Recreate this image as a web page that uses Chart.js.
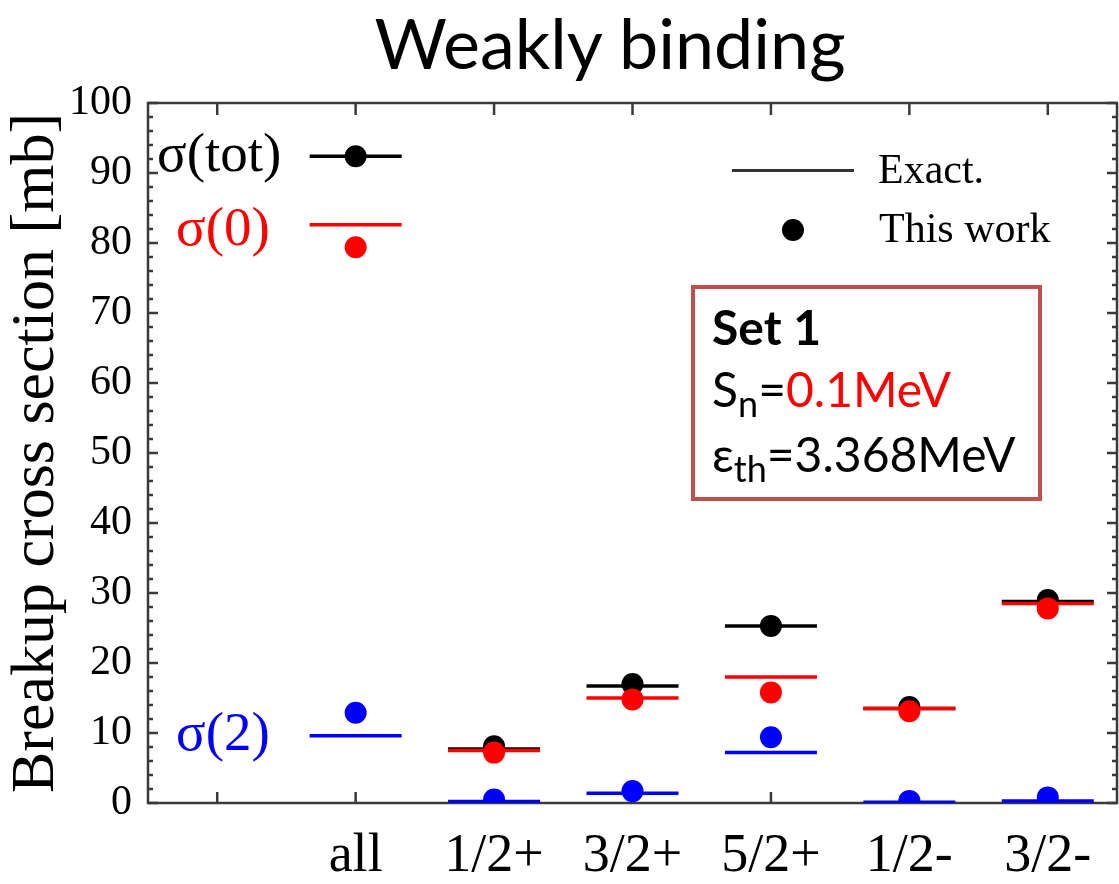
<!DOCTYPE html>
<html>
<head>
<meta charset="utf-8">
<script src="https://cdn.jsdelivr.net/npm/chart.js@4.4.1/dist/chart.umd.min.js"></script>
<style>
  html, body { margin: 0; padding: 0; background: #fff; }
  #wrap { position: relative; width: 1119px; height: 884px; overflow: hidden; }
  #plot { position: absolute; left: 0; top: 0; }
  .txt { position: absolute; white-space: nowrap; line-height: 1; }
  .serif { font-family: "Liberation Serif", "Times New Roman", serif; }
  .sans { font-family: Lato, "Open Sans", sans-serif; }
  #title { left: 0; width: 1220px; top: 7px; text-align: center; font-size: 70px; color: #000; }
  .key-line { position: absolute; left: 732px; top: 169px; width: 122px; border-top: 3px solid #333; }
  .key-dot { position: absolute; left: 782px; top: 219px; width: 22px; height: 22px; border-radius: 50%; background: #000; }
  #box { position: absolute; left: 691px; top: 285px; width: 351px; height: 216px; box-sizing: border-box; border: 4px solid #c0504d; }
  .box-line { font-size: 48px; color: #000; left: 712px; }
  .box-line sub { font-size: 0.75em; vertical-align: -0.28em; line-height: 0; }
  .sig { font-size: 55px; }
</style>
</head>
<body>
<div id="wrap">
  <canvas id="plot" width="1119" height="884"></canvas>
  <div id="title" class="txt sans">Weakly binding</div>

  <div class="txt serif sig" style="left:157px; top:125px; color:#000;">σ(tot)</div>
  <div class="txt serif sig" style="left:176px; top:199px; color:#ff0000;">σ(0)</div>
  <div class="txt serif sig" style="left:176px; top:704px; color:#0000ff;">σ(2)</div>

  <div class="key-line"></div>
  <div class="key-dot"></div>
  <div class="txt serif" style="left:878px; top:148px; font-size:42px; color:#000;">Exact.</div>
  <div class="txt serif" style="left:879px; top:207px; font-size:42px; color:#000;">This work</div>

  <div id="box"></div>
  <div class="txt sans box-line" style="top:303px; font-weight:bold;">Set 1</div>
  <div class="txt sans box-line" style="top:365px;">S<sub>n</sub>=<span style="color:#ff0000;">0.1MeV</span></div>
  <div class="txt sans box-line" style="top:430px;">ε<sub>th</sub>=3.368MeV</div>
</div>
<script>
const categories = ['', 'all', '1/2+', '3/2+', '5/2+', '1/2-', '3/2-'];
const yTicks = [0, 10, 20, 30, 40, 50, 60, 70, 80, 90, 100];

// exact = horizontal bars, work = dots
const exactTot = [null, 92.4, 7.7, 16.7, 25.3, 13.5, 28.8];
const workTot  = [null, 92.4, 8.1, 17.0, 25.3, 13.7, 29.0];
const exactS0  = [null, 82.6, 7.5, 15.0, 18.0, 13.5, 28.5];
const workS0   = [null, 79.4, 7.2, 14.8, 15.8, 13.1, 27.8];
const exactS2  = [null, 9.6, 0.2, 1.4, 7.2, 0.1, 0.3];
const workS2   = [null, 12.9, 0.5, 1.7, 9.4, 0.3, 0.8];

const serif = '"Liberation Serif", "Times New Roman", serif';

function exactSet(data, color) {
    return {
        data: data,
        borderColor: color,
        backgroundColor: color,
        pointStyle: 'line',
        pointRadius: 46,
        pointBorderWidth: 3.5,
        showLine: false
    };
}

function workSet(data, color) {
    return {
        data: data,
        borderColor: color,
        backgroundColor: color,
        pointStyle: 'circle',
        pointRadius: 11,
        pointBorderWidth: 0,
        showLine: false
    };
}

// box round the plot with inward ticks
const frame = {
    id: 'frame',
    beforeDatasetsDraw(chart) {
        const ctx = chart.ctx;
        const a = chart.chartArea;
        const x = chart.scales.x;
        const y = chart.scales.y;
        ctx.save();
        ctx.strokeStyle = '#3a3a3a';
        ctx.lineWidth = 2.5;
        ctx.strokeRect(a.left, a.top, a.right - a.left, a.bottom - a.top);
        ctx.beginPath();
        for (let v = 0; v <= 100; v += 2) {
            const py = y.getPixelForValue(v);
            const len = v % 10 === 0 ? 10 : 5;
            ctx.moveTo(a.left, py); ctx.lineTo(a.left + len, py);
            ctx.moveTo(a.right, py); ctx.lineTo(a.right - len, py);
        }
        categories.forEach((c, i) => {
            const px = x.getPixelForValue(i);
            ctx.moveTo(px, a.bottom); ctx.lineTo(px, a.bottom - 11);
            ctx.moveTo(px, a.top); ctx.lineTo(px, a.top + 12);
        });
        ctx.stroke();
        ctx.restore();
    }
};

const sets = [
    exactSet(exactTot, '#000000'),
    workSet(workTot, '#000000'),
    exactSet(exactS0, '#ff0000'),
    workSet(workS0, '#ff0000'),
    exactSet(exactS2, '#0000ff'),
    workSet(workS2, '#0000ff')
];
sets.forEach((s, i) => { s.order = sets.length - i; });

const ctx = document.getElementById('plot').getContext('2d');
new Chart(ctx, {
    type: 'line',
    data: {
        labels: categories,
        datasets: sets
    },
    options: {
        responsive: false,
        animation: false,
        events: [],
        layout: {
            autoPadding: false,
            padding: { top: 103, right: 2, left: 0, bottom: 0 }
        },
        scales: {
            x: {
                type: 'category',
                offset: true,
                grid: { display: false },
                border: { display: false },
                ticks: {
                    font: { family: serif, size: 54 },
                    color: '#000',
                    padding: 13,
                    autoSkip: false,
                    maxRotation: 0
                },
                afterFit(s) {
                    s.height = 81;
                    s.paddingLeft = 0;
                    s.paddingRight = 0;
                }
            },
            y: {
                min: 0,
                max: 100,
                grid: { display: false },
                border: { display: false },
                afterBuildTicks(s) { s.ticks = yTicks.map(v => ({ value: v })); },
                ticks: {
                    font: { family: serif, size: 42 },
                    color: '#000',
                    padding: 8
                },
                title: {
                    display: true,
                    text: 'Breakup cross section [mb]',
                    font: { family: serif, size: 62 },
                    color: '#000',
                    padding: 0
                },
                afterFit(s) { s.width = 148; }
            }
        },
        plugins: {
            legend: { display: false },
            tooltip: { enabled: false }
        }
    },
    plugins: [frame]
});
</script>
</body>
</html>
